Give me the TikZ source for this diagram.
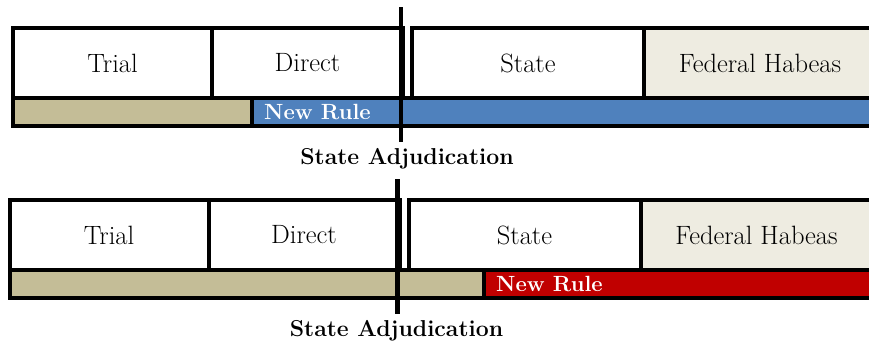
\documentclass[tikz,border=0pt]{standalone}
\usetikzlibrary{positioning}
\definecolor{tanstrip}{HTML}{C4BD97}
\definecolor{ruleblue}{HTML}{4F81BD}
\definecolor{rulered}{HTML}{C00000}
\definecolor{habeasfill}{HTML}{EEECE1}
\tikzset{frame/.style={draw=black,line width=4pt},
  cutoff/.style={line width=4.5pt},
  stagelabel/.style={font=\fontsize{26.5}{30}\selectfont},
  rulelabel/.style={text=white,font=\bfseries\fontsize{22}{26}\selectfont,inner sep=0pt},
  adjlabel/.style={font=\bfseries\fontsize{23}{27}\selectfont}}

\begin{document}
\begin{tikzpicture}[x=1pt,y=-1pt]
\useasboundingbox (0,0) rectangle (869,348);
\clip (0,0) rectangle (869,348);
% one timeline per row: index/xshift/yshift/start of new rule/colour/label x
\foreach \n/\dx/\dy/\rulex/\rulecol/\labx in {1/0/0/252/ruleblue/407,2/-3.5/172/487.5/rulered/400} {
\begin{scope}[shift={(\dx,\dy)}]
% bottom strip
\fill[tanstrip] (13,98) rectangle (\rulex,126);
\fill[\rulecol] (\rulex,98) rectangle (880,126);
\draw[frame] (13,98) rectangle (\rulex,126) (\rulex,98) rectangle (880,126);
% review stages
\fill[habeasfill] (644,28) rectangle (880,98);
\draw[frame] (13,28) rectangle (212,98) (212,28) rectangle (403,98)
  (412,28) rectangle (644,98) (644,28) rectangle (880,98);
\node[stagelabel] (trial\n) at (112.5,63) {Trial};
\node[stagelabel] (direct\n) at (307.5,63) {Direct};
\node[stagelabel] (state\n) at (528,63) {State};
\node[stagelabel] (habeas\n) at (760,63) {Federal Habeas};
\coordinate (rule\n) at (\rulex,112);
\node[rulelabel,right=12pt of rule\n] (newrule\n) {New Rule};
% adjudication cut
\coordinate (cuttop\n) at (401,7);
\coordinate (cutbot\n) at (401,142);
\draw[cutoff] (cuttop\n) -- (cutbot\n);
\node[adjlabel] (adj\n) at (\labx,159) {State Adjudication};
\end{scope}
}
\end{tikzpicture}
\end{document}
